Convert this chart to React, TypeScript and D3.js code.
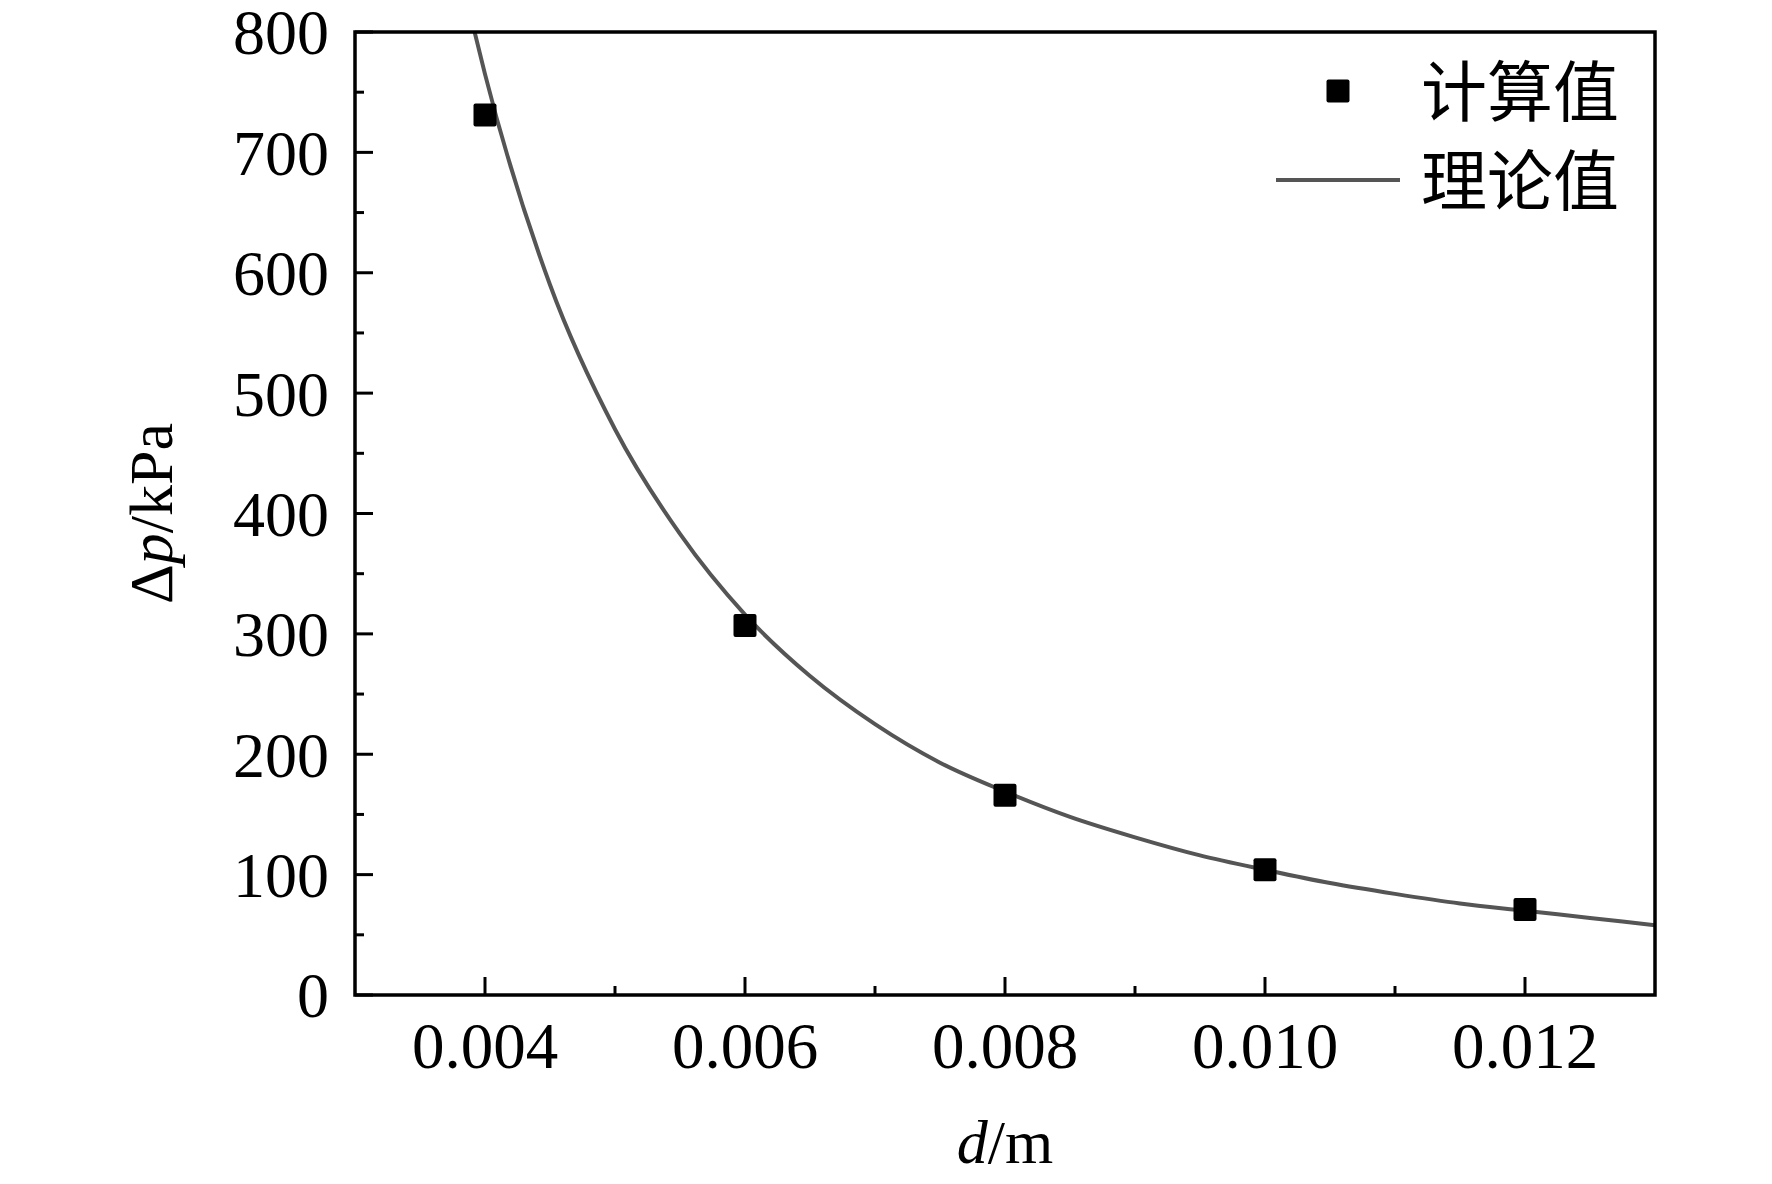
import React, { useEffect } from 'react';
import * as d3 from 'd3';

// computed points (计算值)
const calcD = [0.004, 0.006, 0.008, 0.01, 0.012];
const calcP = [731, 307, 166, 104, 71];

// theoretical curve (理论值)
const theoryD = [0.00392, 0.004, 0.0045, 0.005, 0.0055, 0.006, 0.0065, 0.007, 0.0075, 0.008, 0.0085, 0.009, 0.0095, 0.01, 0.0105, 0.011, 0.0115, 0.012, 0.0125, 0.013];
const theoryP = [800, 765, 590, 470, 383, 316, 265, 225, 193, 169, 148, 131, 116, 104, 93, 84, 76, 70, 64, 58];

const xMajor = [0.004, 0.006, 0.008, 0.01, 0.012];
const xMinor = [0.005, 0.007, 0.009, 0.011];
const yMajor = [0, 100, 200, 300, 400, 500, 600, 700, 800];
const yMinor = [50, 150, 250, 350, 450, 550, 650, 750];

const legendLabels = ['计算值', '理论值'];

const W = 1772;
const H = 1184;
const m = { left: 355, right: 1655, top: 32, bottom: 995 };

const serif = '"Liberation Serif", "Times New Roman", serif';
const cjk = '"Noto Sans CJK SC", sans-serif';

const App: React.FC = () => {
  useEffect(() => {
    document.body.style.margin = '0';
  }, []);

  const x = d3.scaleLinear().domain([0.003, 0.013]).range([m.left, m.right]);
  const y = d3.scaleLinear().domain([0, 800]).range([m.bottom, m.top]);

  const line = d3
    .line<number>()
    .x((d, i) => x(theoryD[i]))
    .y((d) => y(d))
    .curve(d3.curveMonotoneX);

  const fmt = d3.format('.3f');
  const major = 18;
  const minor = 9;
  const sq = 23;

  return (
    <svg width={W} height={H} style={{ display: 'block', background: '#fff' }}>
      <defs>
        <clipPath id="plot">
          <rect x={m.left} y={m.top} width={m.right - m.left} height={m.bottom - m.top} />
        </clipPath>
      </defs>

      {/* theory curve */}
      <path d={line(theoryP) || ''} fill="none" stroke="#555" strokeWidth={4} clipPath="url(#plot)" />

      {/* calculated points */}
      {calcD.map((d, i) => (
        <rect key={i} x={x(d) - sq / 2} y={y(calcP[i]) - sq / 2} width={sq} height={sq} rx={2} fill="#000" />
      ))}

      {/* frame */}
      <rect x={m.left} y={m.top} width={m.right - m.left} height={m.bottom - m.top} fill="none" stroke="#000" strokeWidth={3.5} />

      {/* y ticks */}
      {yMajor.map((v) => (
        <g key={'ym' + v}>
          <line x1={m.left} x2={m.left + major} y1={y(v)} y2={y(v)} stroke="#000" strokeWidth={3} />
          <text x={m.left - 26} y={y(v)} dy="0.35em" textAnchor="end" fontFamily={serif} fontSize={64}>
            {v}
          </text>
        </g>
      ))}
      {yMinor.map((v) => (
        <line key={'yn' + v} x1={m.left} x2={m.left + minor} y1={y(v)} y2={y(v)} stroke="#000" strokeWidth={3} />
      ))}

      {/* x ticks */}
      {xMajor.map((v) => (
        <g key={'xm' + v}>
          <line x1={x(v)} x2={x(v)} y1={m.bottom} y2={m.bottom - major} stroke="#000" strokeWidth={3} />
          <text x={x(v)} y={1068} textAnchor="middle" fontFamily={serif} fontSize={65}>
            {fmt(v)}
          </text>
        </g>
      ))}
      {xMinor.map((v) => (
        <line key={'xn' + v} x1={x(v)} x2={x(v)} y1={m.bottom} y2={m.bottom - minor} stroke="#000" strokeWidth={3} />
      ))}

      {/* axis titles */}
      <text x={(m.left + m.right) / 2} y={1163} textAnchor="middle" fontFamily={serif} fontSize={62}>
        <tspan fontStyle="italic">d</tspan>/m
      </text>
      <text
        transform={`translate(172, ${(m.top + m.bottom) / 2}) rotate(-90)`}
        textAnchor="middle"
        fontFamily={serif}
        fontSize={62}
      >
        Δ<tspan fontStyle="italic">p</tspan>/kPa
      </text>

      {/* legend */}
      <rect x={1338 - sq / 2} y={91 - sq / 2} width={sq} height={sq} rx={2} fill="#000" />
      <text x={1421} y={92} dy="0.36em" fontFamily={cjk} fontSize={66}>
        {legendLabels[0]}
      </text>
      <line x1={1276} x2={1400} y1={180} y2={180} stroke="#555" strokeWidth={4} />
      <text x={1421} y={181} dy="0.36em" fontFamily={cjk} fontSize={66}>
        {legendLabels[1]}
      </text>
    </svg>
  );
};

export default App;
